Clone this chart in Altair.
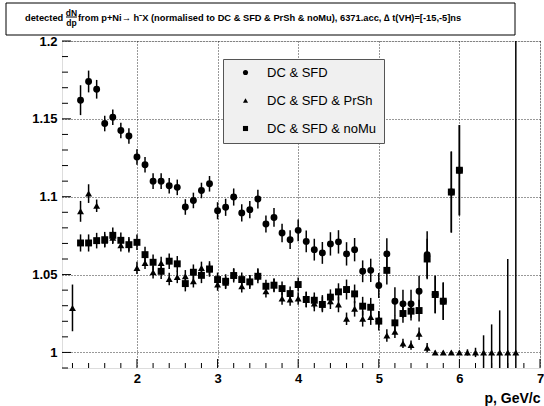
import altair as alt
import pandas as pd

NAMES = ["DC & SFD", "DC & SFD & PrSh", "DC & SFD & noMu"]
SHAPES = ["circle", "triangle-up", "square"]

# ---- DC & SFD (circles)
p_dc = [1.3, 1.4, 1.5, 1.6, 1.7, 1.8, 1.9, 2.0, 2.1, 2.2, 2.3, 2.4, 2.5, 2.6, 2.7, 2.8, 2.9,
        3.0, 3.1, 3.2, 3.3, 3.4, 3.5, 3.6, 3.7, 3.8, 3.9, 4.0, 4.1, 4.2, 4.3, 4.4, 4.5, 4.6,
        4.7, 4.8, 4.9, 5.0, 5.1, 5.2, 5.3, 5.4, 5.5, 5.6, 5.7, 5.8, 5.9, 6.0]
v_dc = [1.162, 1.174, 1.169, 1.147, 1.151, 1.1425, 1.139, 1.1255, 1.1205, 1.110, 1.110, 1.107,
        1.106, 1.0934, 1.0976, 1.104, 1.1083, 1.091, 1.0932, 1.0998, 1.0896, 1.0917, 1.0985,
        1.0825, 1.0867, 1.0767, 1.0724, 1.0784, 1.0713, 1.066, 1.0639, 1.0697, 1.071, 1.0633,
        1.066, 1.0521, 1.0527, 1.043, 1.0633, 1.0329, 1.0312, 1.0312, 1.0393, 1.0628, 1.0372,
        1.0329, 1.103, 1.117]
e_dc = [0.0096, 0.007, 0.006, 0.005, 0.005, 0.005, 0.005, 0.005, 0.005, 0.005, 0.005, 0.005,
        0.005, 0.005, 0.005, 0.005, 0.005, 0.0055, 0.0055, 0.0055, 0.0055, 0.0055, 0.006,
        0.0055, 0.006, 0.006, 0.006, 0.007, 0.007, 0.007, 0.007, 0.0075, 0.0075, 0.0075,
        0.0075, 0.007, 0.0075, 0.008, 0.010, 0.009, 0.009, 0.009, 0.010, 0.015, 0.012,
        0.012, 0.026, 0.029]

# ---- DC & SFD & PrSh (triangles)
p_pr = [1.2, 1.3, 1.4, 1.5, 1.6, 1.7, 1.8, 1.9, 2.0, 2.1, 2.2, 2.3, 2.4, 2.5, 2.6, 2.7, 2.8,
        2.9, 3.0, 3.1, 3.2, 3.3, 3.4, 3.5, 3.6, 3.7, 3.8, 3.9, 4.0, 4.1, 4.2, 4.3, 4.4, 4.5,
        4.6, 4.7, 4.8, 4.9, 5.0, 5.1, 5.2, 5.3, 5.4, 5.5, 5.6, 5.7, 5.8, 5.9, 6.0, 6.1, 6.2,
        6.3, 6.4, 6.5, 6.6, 6.7]
v_pr = [1.0286, 1.0906, 1.102, 1.0942, 1.0718, 1.0737, 1.0688, 1.0692, 1.0543, 1.0575, 1.0515,
        1.0575, 1.0472, 1.0485, 1.0489, 1.0457, 1.0543, 1.0532, 1.0436, 1.0447, 1.050, 1.0425,
        1.0457, 1.050, 1.0393, 1.0432, 1.0346, 1.034, 1.0346, 1.034, 1.0314, 1.0318, 1.0329,
        1.0308, 1.0216, 1.028, 1.0216, 1.0227, 1.0216, 1.0109, 1.0132, 1.0058, 1.0047, 1.012,
        1.003, 1.0, 1.0, 1.0, 1.0, 1.0, 1.0, 1.0, 1.0, 1.0, 1.0, 1.0]
e_pr = [0.015, 0.0067, 0.006, 0.004, 0.004, 0.004, 0.004, 0.004, 0.004, 0.004, 0.004, 0.004,
        0.004, 0.004, 0.004, 0.004, 0.004, 0.004, 0.004, 0.004, 0.004, 0.004, 0.004, 0.004,
        0.004, 0.004, 0.004, 0.004, 0.004, 0.005, 0.005, 0.005, 0.005, 0.005, 0.004, 0.005,
        0.005, 0.005, 0.005, 0.004, 0.004, 0.003, 0.003, 0.004, 0.003, 0.001, 0.001, 0.001,
        0.001, 0.002, 0.003, 0.011, 0.018, 0.027, 0.06, 0.3]

# ---- DC & SFD & noMu (squares)
p_nm = [1.3, 1.4, 1.5, 1.6, 1.7, 1.8, 1.9, 2.0, 2.1, 2.2, 2.3, 2.4, 2.5, 2.6, 2.7, 2.8, 2.9,
        3.0, 3.1, 3.2, 3.3, 3.4, 3.5, 3.6, 3.7, 3.8, 3.9, 4.0, 4.1, 4.2, 4.3, 4.4, 4.5, 4.6,
        4.7, 4.8, 4.9, 5.0, 5.1, 5.2, 5.3, 5.4, 5.5, 5.6, 5.7, 5.8, 5.9, 6.0]
v_nm = [1.0703, 1.0703, 1.0718, 1.0724, 1.0752, 1.072, 1.0692, 1.0707, 1.0628, 1.0579, 1.0521,
        1.0586, 1.0569, 1.0442, 1.0515, 1.0495, 1.0536, 1.0468, 1.0457, 1.0494, 1.0468, 1.0453,
        1.0489, 1.0425, 1.0432, 1.041, 1.0378, 1.0436, 1.034, 1.0335, 1.0308, 1.0355, 1.0389,
        1.0404, 1.0376, 1.0297, 1.029, 1.0201, 1.0527, 1.019, 1.025, 1.0265, 1.0269, 1.060,
        1.0372, 1.0329, 1.103, 1.117]
e_nm = [0.0055, 0.0055, 0.005, 0.005, 0.005, 0.005, 0.005, 0.005, 0.005, 0.005, 0.005, 0.005,
        0.005, 0.005, 0.005, 0.005, 0.005, 0.0045, 0.0045, 0.0045, 0.0045, 0.0045, 0.0045,
        0.0042, 0.0045, 0.0045, 0.0045, 0.0045, 0.005, 0.005, 0.005, 0.005, 0.0055, 0.0064,
        0.006, 0.006, 0.006, 0.006, 0.009, 0.005, 0.006, 0.006, 0.007, 0.013, 0.012, 0.012,
        0.026, 0.029]

X_MAJOR = [2, 3, 4, 5, 6, 7]
X_MINOR = [1.2, 1.4, 1.6, 1.8, 2.2, 2.4, 2.6, 2.8, 3.2, 3.4, 3.6, 3.8, 4.2, 4.4, 4.6, 4.8,
           5.2, 5.4, 5.6, 5.8, 6.2, 6.4, 6.6, 6.8]
Y_MAJOR = [1.0, 1.05, 1.1, 1.15, 1.2]
Y_MINOR = [0.99, 1.01, 1.02, 1.03, 1.04, 1.06, 1.07, 1.08, 1.09, 1.11, 1.12, 1.13, 1.14,
           1.16, 1.17, 1.18, 1.19]

TITLE_LEFT = "detected"
TITLE_NUM = "dN"
TITLE_DEN = "dp"
TITLE_REST = "from p+Ni\u2192 h\u207bX (normalised to DC & SFD & PrSh & noMu), 6371.acc, \u2206 t(VH)=[-15,-5]ns"
X_TITLE = "p, GeV/c"

W, H = 478, 327

rows = []
for name, ps, vs, es in [(NAMES[0], p_dc, v_dc, e_dc), (NAMES[1], p_pr, v_pr, e_pr),
                         (NAMES[2], p_nm, v_nm, e_nm)]:
    for p, v, e in zip(ps, vs, es):
        rows.append({"p": p, "v": v, "lo": v - e, "hi": v + e, "s": name})
df = pd.DataFrame(rows)

xs = alt.Scale(domain=[1.07, 7.0], nice=False, zero=False)
ys = alt.Scale(domain=[0.99, 1.2], nice=False, zero=False)

xax = alt.Axis(values=X_MAJOR, grid=True, ticks=False, tickSize=0, domain=False, format="d",
               labelFontSize=13, labelFontWeight="bold", labelPadding=4, labelColor="black",
               title=X_TITLE, titleFontSize=14, titleFontWeight="bold", titleColor="black",
               titleAlign="right", titleAnchor="end", titleX=478, titleY=34,
               titleBaseline="alphabetic", labelFlush=False)
yax = alt.Axis(values=Y_MAJOR, grid=True, ticks=False, tickSize=0, domain=False,
               labelFontSize=13, labelFontWeight="bold", labelPadding=5, labelColor="black",
               format="~g", title=None)

base = alt.Chart(df)

errbars = base.mark_rule(color="black", strokeWidth=1.5, clip=True).encode(
    x=alt.X("p:Q", scale=xs, axis=xax),
    y=alt.Y("lo:Q", scale=ys, axis=yax),
    y2="hi:Q",
)

points = base.mark_point(filled=True, color="black", opacity=1, size=48).encode(
    x=alt.X("p:Q", scale=xs),
    y=alt.Y("v:Q", scale=ys),
    shape=alt.Shape("s:N", scale=alt.Scale(domain=NAMES, range=SHAPES),
                    legend=alt.Legend(orient="none", legendX=161, legendY=18, title=None,
                                      fillColor="#f0f0f0", strokeColor="#555555",
                                      padding=7, symbolOffset=9, labelOffset=15,
                                      rowPadding=14, labelFontSize=13, labelColor="black",
                                      symbolSize=26, symbolFillColor="black",
                                      symbolStrokeColor="black", symbolStrokeWidth=0)),
)

xmaj = alt.Chart(pd.DataFrame({"t": X_MAJOR})).mark_rule(color="black").encode(
    x=alt.X("t:Q", scale=xs), y=alt.value(H), y2=alt.value(H - 9))
xmin = alt.Chart(pd.DataFrame({"t": X_MINOR})).mark_rule(color="black").encode(
    x=alt.X("t:Q", scale=xs), y=alt.value(H), y2=alt.value(H - 5))
ymaj = alt.Chart(pd.DataFrame({"t": Y_MAJOR})).mark_rule(color="black").encode(
    y=alt.Y("t:Q", scale=ys), x=alt.value(0), x2=alt.value(9))
ymin = alt.Chart(pd.DataFrame({"t": Y_MINOR})).mark_rule(color="black").encode(
    y=alt.Y("t:Q", scale=ys), x=alt.value(0), x2=alt.value(6))

one = pd.DataFrame({"a": [0]})
tbox = alt.Chart(one).mark_rect(fill="white", stroke="black", strokeWidth=1).encode(
    x=alt.value(-56), x2=alt.value(453), y=alt.value(-38), y2=alt.value(-6))
t1 = alt.Chart(one).mark_text(align="left", baseline="middle", font="Liberation Sans",
                              fontSize=9.3, fontWeight="bold", color="black", text=TITLE_LEFT
                              ).encode(x=alt.value(-37), y=alt.value(-23))
tn = alt.Chart(one).mark_text(align="center", baseline="middle", font="Liberation Sans",
                              fontSize=8.5, fontWeight="bold", color="black", text=TITLE_NUM
                              ).encode(x=alt.value(9.5), y=alt.value(-28.5))
td = alt.Chart(one).mark_text(align="center", baseline="middle", font="Liberation Sans",
                              fontSize=8.5, fontWeight="bold", color="black", text=TITLE_DEN
                              ).encode(x=alt.value(9.5), y=alt.value(-18.5))
tbar = alt.Chart(one).mark_rule(color="black", strokeWidth=1).encode(
    x=alt.value(4), x2=alt.value(15), y=alt.value(-24))
t2 = alt.Chart(one).mark_text(align="left", baseline="middle", font="Liberation Sans",
                              fontSize=9.3, fontWeight="bold", color="black", text=TITLE_REST
                              ).encode(x=alt.value(16), y=alt.value(-23))

chart = alt.layer(errbars, points, xmaj, xmin, ymaj, ymin, tbox, t1, tn, td, tbar, t2).properties(
    width=W, height=H,
    padding={"left": 62, "top": 41, "right": 4, "bottom": 38},
    autosize=alt.AutoSizeParams(type="none"),
    background="white",
).configure_view(stroke="black", strokeWidth=1).configure(
    font="Liberation Sans"
).configure_axis(
    gridColor="black", gridDash=[1, 2], gridWidth=1, gridOpacity=0.8,
    labelFont="Liberation Sans", titleFont="Liberation Sans"
).configure_legend(labelFont="Liberation Sans")

chart.save("out.html", embed_options={"renderer": "svg", "actions": False})
